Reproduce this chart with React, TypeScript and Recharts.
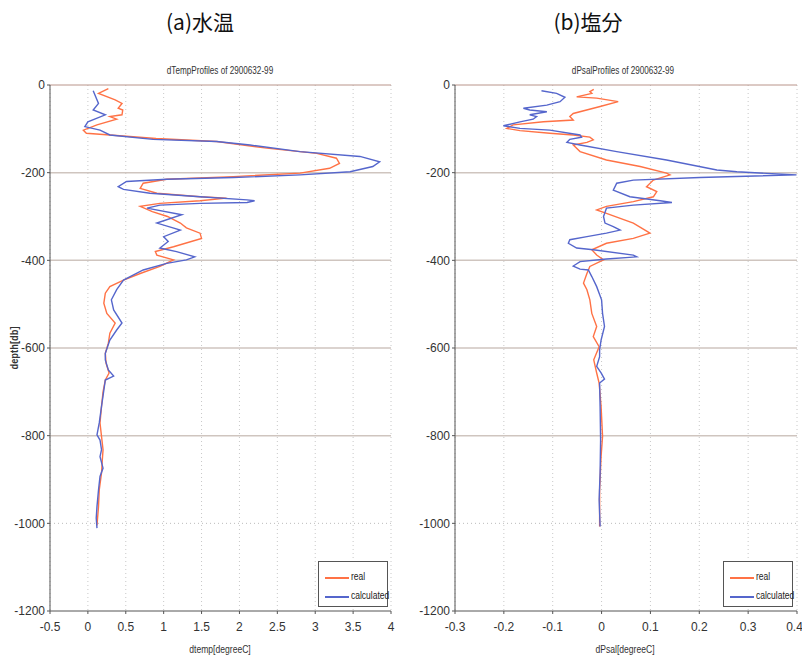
import React from 'react'
import { ScatterChart, Scatter, XAxis, YAxis, CartesianGrid, ReferenceLine } from 'recharts'

const NARROW = '"Liberation Sans Narrow", "Liberation Sans", Arial, sans-serif'
const REAL = '#ff7245'
const CALC = '#5566cc'

// depth [db] (negative down) and value pairs
const tempRealDepth = [-8, -19, -34, -42, -53, -57, -68, -72, -78, -91, -103, -110, -114, -122, -129, -144, -156, -167, -179, -190, -201, -209, -215, -224, -236, -247, -255, -258, -264, -270, -277, -289, -300, -315, -326, -338, -350, -369, -380, -388, -399, -414, -430, -445, -460, -475, -498, -521, -543, -566, -589, -612, -635, -657, -673, -700, -733, -771, -802, -832, -856, -885, -924, -962, -1005]
const tempReal = [0.27, 0.14, 0.36, 0.45, 0.4, 0.46, 0.45, 0.29, 0.38, 0.12, -0.06, -0.02, 0.29, 0.9, 1.7, 2.36, 3.02, 3.28, 3.32, 3.19, 2.8, 1.92, 1.04, 0.73, 0.69, 0.91, 1.48, 1.83, 1.48, 0.95, 0.69, 0.85, 1.05, 1.22, 1.3, 1.48, 1.5, 1.13, 0.89, 0.91, 1.13, 0.95, 0.69, 0.47, 0.29, 0.23, 0.21, 0.25, 0.36, 0.29, 0.27, 0.23, 0.24, 0.28, 0.23, 0.2, 0.18, 0.16, 0.18, 0.2, 0.19, 0.18, 0.15, 0.14, 0.12]

const tempCalcDepth = [-13, -42, -57, -68, -84, -95, -103, -114, -124, -129, -137, -152, -163, -175, -186, -198, -205, -211, -215, -220, -232, -238, -247, -255, -262, -264, -268, -270, -274, -281, -296, -315, -331, -346, -357, -372, -380, -392, -399, -407, -422, -445, -467, -490, -513, -543, -559, -582, -612, -627, -650, -664, -673, -733, -771, -798, -810, -832, -848, -874, -893, -924, -962, -988, -1011]
const tempCalc = [0.07, 0.14, 0.07, 0.23, 0.0, -0.04, 0.16, 0.29, 0.86, 1.7, 2.14, 2.8, 3.59, 3.85, 3.76, 3.46, 2.8, 1.92, 1.04, 0.51, 0.4, 0.47, 0.82, 1.48, 2.1, 2.2, 2.1, 1.48, 0.95, 0.78, 1.24, 0.91, 1.22, 1.0, 1.06, 0.95, 1.17, 1.41, 1.3, 1.04, 0.73, 0.47, 0.38, 0.31, 0.34, 0.45, 0.38, 0.29, 0.23, 0.23, 0.27, 0.34, 0.23, 0.18, 0.15, 0.12, 0.16, 0.18, 0.16, 0.2, 0.16, 0.14, 0.12, 0.11, 0.12]

const salRealDepth = [-10, -15, -19, -27, -30, -38, -49, -65, -72, -80, -84, -91, -99, -104, -110, -114, -119, -125, -131, -137, -152, -171, -186, -201, -205, -217, -232, -243, -255, -266, -277, -285, -293, -315, -338, -350, -361, -376, -388, -399, -414, -430, -452, -467, -490, -521, -551, -574, -597, -627, -657, -680, -733, -802, -848, -924, -1007]
const salReal = [-0.016, -0.024, -0.02, -0.051, -0.01, 0.034, -0.003, -0.058, -0.065, -0.058, -0.119, -0.181, -0.194, -0.167, -0.106, -0.058, -0.024, -0.017, -0.03, -0.058, -0.044, 0.01, 0.079, 0.133, 0.14, 0.106, 0.092, 0.113, 0.106, 0.065, 0.01, -0.01, 0.01, 0.065, 0.099, 0.065, 0.01, -0.02, -0.01, 0.004, -0.024, -0.03, -0.037, -0.03, -0.024, -0.02, -0.01, -0.017, -0.005, -0.016, -0.01, -0.005, -0.001, 0.002, -0.001, -0.004, -0.004]

const salCalcDepth = [-13, -19, -28, -38, -46, -53, -57, -61, -68, -72, -78, -84, -93, -99, -103, -114, -119, -124, -131, -137, -152, -171, -194, -198, -205, -211, -217, -224, -240, -255, -264, -268, -274, -281, -300, -315, -323, -331, -338, -346, -353, -361, -372, -376, -388, -392, -397, -403, -413, -420, -422, -437, -460, -490, -521, -551, -582, -604, -620, -642, -657, -671, -680, -733, -810, -885, -946, -1007]
const salCalc = [-0.123, -0.092, -0.075, -0.085, -0.112, -0.16, -0.147, -0.112, -0.147, -0.133, -0.14, -0.167, -0.201, -0.167, -0.106, -0.044, -0.041, -0.065, -0.071, -0.044, 0.031, 0.133, 0.236, 0.277, 0.399, 0.201, 0.065, 0.031, 0.024, 0.058, 0.12, 0.144, 0.065, 0.01, 0.004, 0.007, 0.024, 0.038, 0.01, -0.03, -0.065, -0.068, -0.051, -0.017, 0.065, 0.072, 0.01, -0.044, -0.058, -0.044, -0.027, -0.02, -0.01, 0.0, 0.002, 0.006, -0.001, -0.004, -0.004, -0.01, -0.001, 0.006, -0.004, -0.003, -0.002, -0.003, -0.005, -0.003]

const depthTicks = [0, -200, -400, -600, -800, -1000, -1200]
const tempTicks = [-0.5, 0, 0.5, 1, 1.5, 2, 2.5, 3, 3.5, 4]
const salTicks = [-0.3, -0.2, -0.1, 0, 0.1, 0.2, 0.3, 0.4]

const zip = (d: number[], v: number[]) =>
  d.slice(0, Math.min(d.length, v.length)).map((y, i) => ({ x: v[i], y }))

const noDot = () => <g />

// squeezed text, the original uses a narrow font
const squeeze = (k: number): React.CSSProperties => ({ transform: `scaleX(${k})`, transformOrigin: 'center' })

function Panel({ left, width, marginLeft, marginRight, title, xLabel, ticks, real, calc, titleX, xLabelX, legendX }: any) {
  const tickStyle = { fontFamily: NARROW, fontSize: 12, fill: '#333' }
  return (
    <>
      <div style={{ position: 'absolute', left: titleX - 100, top: 64, width: 200, textAlign: 'center', fontFamily: NARROW, fontSize: 11, color: '#333', ...squeeze(0.74) }}>
        {title}
      </div>
      <div style={{ position: 'absolute', left, top: 60 }}>
        <ScatterChart width={width} height={590} margin={{ top: 25, right: marginRight, bottom: 19, left: marginLeft }}>
          <CartesianGrid horizontal={false} stroke="#c8c8c8" strokeDasharray="1 3" />
          {[-200, -400, -600, -800].map((v) => (
            <ReferenceLine key={v} y={v} stroke="#cfc5bf" strokeWidth={1.5} />
          ))}
          <ReferenceLine y={-1000} stroke="#bbb" strokeDasharray="1 3" />
          <ReferenceLine y={0} stroke="#b9948a" />
          <XAxis
            type="number"
            dataKey="x"
            domain={[ticks[0], ticks[ticks.length - 1]]}
            ticks={ticks}
            tick={tickStyle}
            tickSize={3}
            tickMargin={8}
            height={20}
            stroke="#555"
            allowDataOverflow
          />
          <YAxis
            type="number"
            dataKey="y"
            domain={[-1200, 0]}
            ticks={depthTicks}
            tick={tickStyle}
            tickSize={3}
            tickMargin={2}
            width={40}
            stroke="#555"
            interval={0}
          />
          <Scatter name="real" data={real} fill={REAL} line={{ strokeWidth: 1.4 }} shape={noDot} isAnimationActive={false} />
          <Scatter name="calculated" data={calc} fill={CALC} line={{ strokeWidth: 1.4 }} shape={noDot} isAnimationActive={false} />
        </ScatterChart>
      </div>
      <div style={{ position: 'absolute', left: xLabelX - 100, top: 643, width: 200, textAlign: 'center', fontFamily: NARROW, fontSize: 11, color: '#333', ...squeeze(0.78) }}>
        {xLabel}
      </div>
      <div style={{ position: 'absolute', left: legendX, top: 561, width: 68, height: 44, border: '1.5px solid #555', background: '#fff', fontFamily: NARROW, fontSize: 10, color: '#222' }}>
        <div style={{ position: 'absolute', left: 6, top: 15, width: 24, height: 1.5, background: REAL }} />
        <div style={{ position: 'absolute', left: 32, top: 9, transform: 'scaleX(0.85)', transformOrigin: 'left' }}>real</div>
        <div style={{ position: 'absolute', left: 6, top: 34, width: 24, height: 1.5, background: CALC }} />
        <div style={{ position: 'absolute', left: 32, top: 28, transform: 'scaleX(0.85)', transformOrigin: 'left' }}>calculated</div>
      </div>
    </>
  )
}

export default function App() {
  return (
    <div style={{ position: 'absolute', left: 0, top: 0, width: 802, height: 660, background: '#fff', overflow: 'hidden' }}>
      <div style={{ position: 'absolute', left: 100, top: 6, width: 200, textAlign: 'center', fontFamily: '"Noto Sans CJK JP", sans-serif', fontSize: 21, color: '#111' }}>
        (a)水温
      </div>
      <div style={{ position: 'absolute', left: 488, top: 6, width: 200, textAlign: 'center', fontFamily: '"Noto Sans CJK JP", sans-serif', fontSize: 21, color: '#111' }}>
        (b)塩分
      </div>
      <div style={{ position: 'absolute', left: -36, top: 342, width: 100, textAlign: 'center', transform: 'rotate(-90deg) scaleX(0.85)', fontFamily: NARROW, fontSize: 11, fontWeight: 'bold', color: '#333' }}>
        depth[db]
      </div>
      <Panel
        left={0}
        width={400}
        marginLeft={10}
        marginRight={9}
        title="dTempProfiles of 2900632-99"
        xLabel="dtemp[degreeC]"
        ticks={tempTicks}
        real={zip(tempRealDepth, tempReal)}
        calc={zip(tempCalcDepth, tempCalc)}
        titleX={220}
        xLabelX={220}
        legendX={318}
      />
      <Panel
        left={400}
        width={402}
        marginLeft={15}
        marginRight={5}
        title="dPsalProfiles of 2900632-99"
        xLabel="dPsal[degreeC]"
        ticks={salTicks}
        real={zip(salRealDepth, salReal)}
        calc={zip(salCalcDepth, salCalc)}
        titleX={623}
        xLabelX={625}
        legendX={723}
      />
    </div>
  )
}
